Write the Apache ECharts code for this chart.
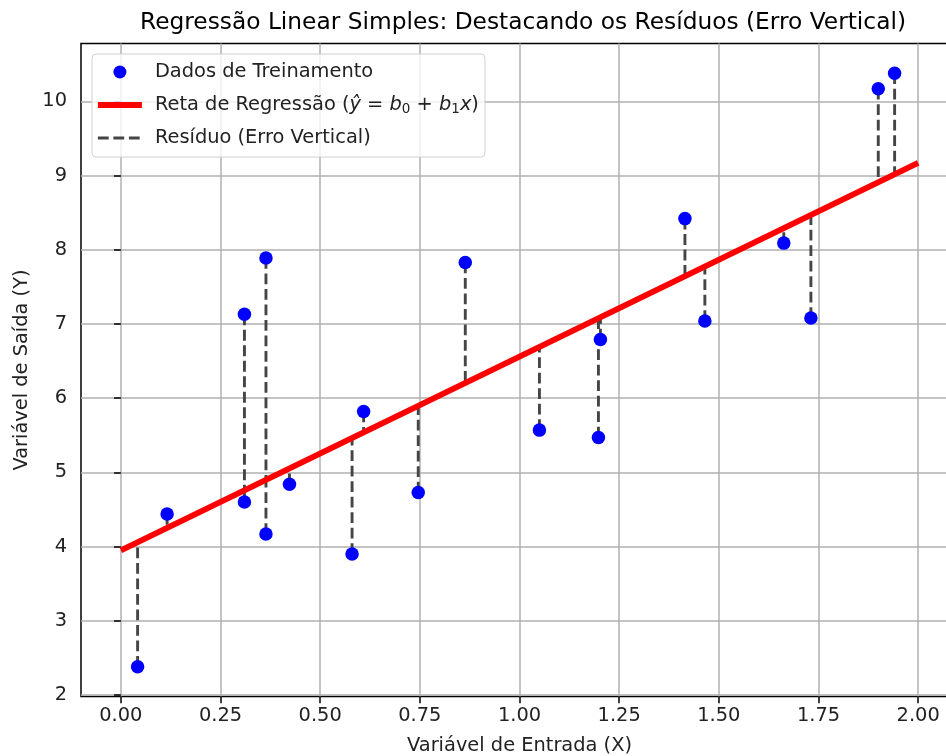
<!DOCTYPE html>
<html>
<head>
<meta charset="utf-8">
<script src="https://cdn.jsdelivr.net/npm/echarts@6/dist/echarts.min.js"></script>
<style>
html, body { margin: 0; padding: 0; background: #fff; }
#main { width: 946px; height: 756px; }
</style>
</head>
<body>
<div id="main"></div>
<script>
// pontos de treinamento
var xData = [0.042, 0.116, 0.310, 0.310, 0.364, 0.364, 0.423, 0.580, 0.609, 0.746,
             0.864, 1.050, 1.198, 1.203, 1.415, 1.465, 1.663, 1.731, 1.900, 1.941];
var yData = [2.38, 4.44, 7.13, 4.60, 7.89, 4.17, 4.84, 3.90, 5.82, 4.73,
             7.83, 5.57, 5.47, 6.79, 8.42, 7.04, 8.09, 7.08, 10.17, 10.38];
// reta de regressao
var b0 = 3.95;
var b1 = 2.61;
var regX = [0, 2];
// marcas dos eixos
var xTicks = [0, 0.25, 0.5, 0.75, 1, 1.25, 1.5, 1.75, 2];
var yTicks = [2, 3, 4, 5, 6, 7, 8, 9, 10];

var font = 'DejaVu Sans';
var fs = 19.4;

var pontos = [];
for (var i = 0; i < xData.length; i++) {
	pontos.push([xData[i], yData[i]]);
}
var reta = [];
for (var i = 0; i < regX.length; i++) {
	reta.push([regX[i], b0 + b1 * regX[i]]);
}
//residuos: segmento vertical do ponto ate a reta
var residuos = [];
for (var i = 0; i < xData.length; i++) {
	residuos.push([xData[i], yData[i]]);
	residuos.push([xData[i], b0 + b1 * xData[i]]);
	residuos.push([xData[i], '-']);
}

var nomes = {
	'Dados': 'Dados de Treinamento',
	'Reta': 'Reta de Regressão ({i|ŷ} = {i|b}{s|0} + {i|b}{s|1}{i|x})',
	'Residuo': 'Resíduo (Erro Vertical)'
};

var myChart = echarts.init(document.getElementById('main'));
var option = {
	animation: false,
	backgroundColor: '#fff',
	title: {
		text: 'Regressão Linear Simples: Destacando os Resíduos (Erro Vertical)',
		left: 518,
		textAlign: 'center',
		top: 6,
		textStyle: { fontFamily: font, fontSize: 23.3, fontWeight: 'normal', color: '#000' }
	},
	grid: {
		left: 81, top: 43.5, width: 877, height: 653,
		outerBoundsMode: 'none',
		containLabel: false,
		show: true, borderColor: '#000', borderWidth: 1.5
	},
	legend: {
		left: 92, top: 54,
		orient: 'vertical',
		itemWidth: 44, itemHeight: 13, itemGap: 11,
		padding: [7, 6, 8, 3],
		backgroundColor: 'rgba(255,255,255,0.8)',
		borderColor: '#d0d0d0', borderWidth: 1, borderRadius: 4,
		data: [
			{ name: 'Dados', icon: 'circle' },
			{ name: 'Reta', lineStyle: { width: 5.8 }, itemStyle: { opacity: 0, borderWidth: 0 } },
			{ name: 'Residuo', lineStyle: { width: 2.9, type: [10.8, 4.7] }, itemStyle: { opacity: 0, borderWidth: 0 } }
		],
		formatter: function (name) { return nomes[name]; },
		textStyle: {
			fontFamily: font, fontSize: fs, color: '#222', lineHeight: 22,
			padding: [0, 0, 0, 8],
			rich: {
				i: { fontFamily: font, fontSize: fs, fontStyle: 'italic', color: '#222', lineHeight: 22 },
				s: { fontFamily: font, fontSize: 13.5, color: '#222', verticalAlign: 'bottom', lineHeight: 15 }
			}
		}
	},
	xAxis: {
		type: 'value',
		min: -0.1, max: 2.1,
		name: 'Variável de Entrada (X)',
		nameLocation: 'middle',
		nameGap: 40,
		nameTextStyle: { fontFamily: font, fontSize: fs, color: '#222' },
		axisLine: { show: false },
		axisTick: { show: true, inside: false, length: 6.8, customValues: xTicks,
			lineStyle: { color: '#000', width: 1.5 } },
		axisLabel: { customValues: xTicks, margin: 10, fontFamily: font, fontSize: fs, color: '#222',
			formatter: function (v) { return v.toFixed(2); } },
		splitLine: { show: true, lineStyle: { color: '#b0b0b0', width: 1.5 } }
	},
	yAxis: {
		type: 'value',
		min: 1.98, max: 10.78,
		name: 'Variável de Saída (Y)',
		nameLocation: 'middle',
		nameGap: 49,
		nameTextStyle: { fontFamily: font, fontSize: fs, color: '#222' },
		axisLine: { show: false },
		axisTick: { show: true, inside: false, length: 6.8, customValues: yTicks,
			lineStyle: { color: '#000', width: 1.5 } },
		axisLabel: { customValues: yTicks, margin: 14, fontFamily: font, fontSize: fs, color: '#222' },
		splitLine: { show: true, lineStyle: { color: '#b0b0b0', width: 1.5 } }
	},
	series: [
		{
			name: 'Residuo',
			type: 'line',
			data: residuos,
			symbol: 'none',
			connectNulls: false,
			z: 2,
			lineStyle: { color: '#454545', width: 2.9, type: [10.8, 4.7] },
			itemStyle: { color: '#454545' }
		},
		{
			name: 'Reta',
			type: 'line',
			data: reta,
			symbol: 'none',
			z: 3,
			lineStyle: { color: '#ff0000', width: 5.8 },
			itemStyle: { color: '#ff0000' }
		},
		{
			name: 'Dados',
			type: 'scatter',
			data: pontos,
			symbolSize: 13.5,
			z: 4,
			itemStyle: { color: '#0000ff', opacity: 1 }
		}
	]
};
myChart.setOption(option);
</script>
</body>
</html>
